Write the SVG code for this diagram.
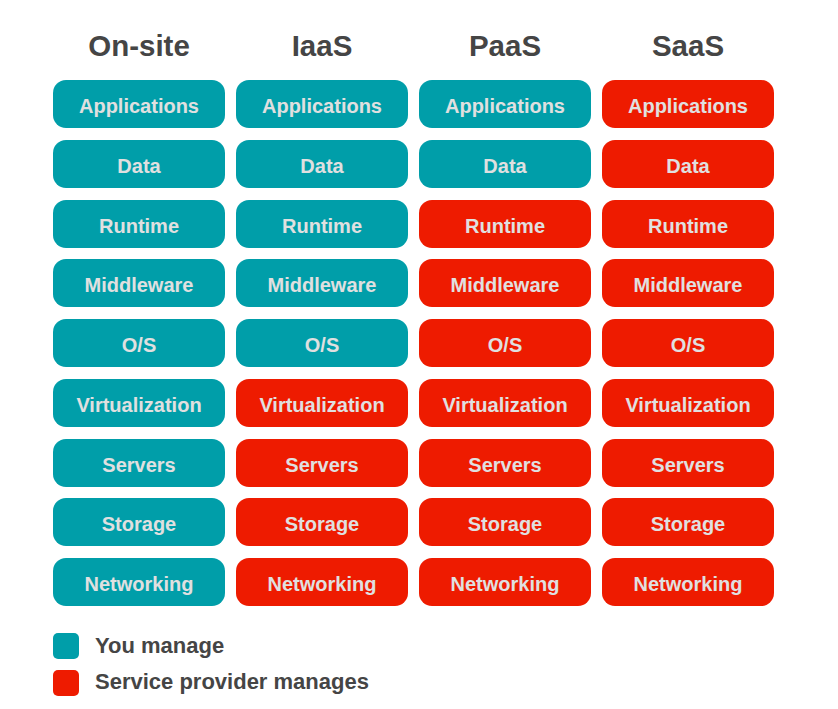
<svg xmlns="http://www.w3.org/2000/svg" width="838" height="709" viewBox="0 0 838 709">
<style>
.h{font-family:"Liberation Sans",Arial,sans-serif;font-weight:bold;font-size:29.5px;fill:#454545;text-anchor:middle}
.t{font-family:"Liberation Sans",Arial,sans-serif;font-weight:bold;font-size:20px;fill:#e0e0e0;text-anchor:middle}
.l{font-family:"Liberation Sans",Arial,sans-serif;font-weight:bold;font-size:22px;fill:#454545}
.y{fill:#009ea9}
.s{fill:#ee1b00}
</style>
<rect width="838" height="709" fill="#ffffff"/>
<g id="headers">
<text class="h" x="139" y="56">On-site</text>
<text class="h" x="322" y="56">IaaS</text>
<text class="h" x="505" y="56">PaaS</text>
<text class="h" x="688" y="56">SaaS</text>
</g>
<g id="onsite">
<g id="onsite-applications"><rect class="y" x="53" y="80" width="172" height="48" rx="13"/><text class="t" x="139" y="112.5">Applications</text></g>
<g id="onsite-data"><rect class="y" x="53" y="140" width="172" height="48" rx="13"/><text class="t" x="139" y="172.5">Data</text></g>
<g id="onsite-runtime"><rect class="y" x="53" y="200" width="172" height="48" rx="13"/><text class="t" x="139" y="232.5">Runtime</text></g>
<g id="onsite-middleware"><rect class="y" x="53" y="259" width="172" height="48" rx="13"/><text class="t" x="139" y="291.5">Middleware</text></g>
<g id="onsite-os"><rect class="y" x="53" y="319" width="172" height="48" rx="13"/><text class="t" x="139" y="351.5">O/S</text></g>
<g id="onsite-virtualization"><rect class="y" x="53" y="379" width="172" height="48" rx="13"/><text class="t" x="139" y="411.5">Virtualization</text></g>
<g id="onsite-servers"><rect class="y" x="53" y="439" width="172" height="48" rx="13"/><text class="t" x="139" y="471.5">Servers</text></g>
<g id="onsite-storage"><rect class="y" x="53" y="498" width="172" height="48" rx="13"/><text class="t" x="139" y="530.5">Storage</text></g>
<g id="onsite-networking"><rect class="y" x="53" y="558" width="172" height="48" rx="13"/><text class="t" x="139" y="590.5">Networking</text></g>
</g>
<g id="iaas">
<g id="iaas-applications"><rect class="y" x="236" y="80" width="172" height="48" rx="13"/><text class="t" x="322" y="112.5">Applications</text></g>
<g id="iaas-data"><rect class="y" x="236" y="140" width="172" height="48" rx="13"/><text class="t" x="322" y="172.5">Data</text></g>
<g id="iaas-runtime"><rect class="y" x="236" y="200" width="172" height="48" rx="13"/><text class="t" x="322" y="232.5">Runtime</text></g>
<g id="iaas-middleware"><rect class="y" x="236" y="259" width="172" height="48" rx="13"/><text class="t" x="322" y="291.5">Middleware</text></g>
<g id="iaas-os"><rect class="y" x="236" y="319" width="172" height="48" rx="13"/><text class="t" x="322" y="351.5">O/S</text></g>
<g id="iaas-virtualization"><rect class="s" x="236" y="379" width="172" height="48" rx="13"/><text class="t" x="322" y="411.5">Virtualization</text></g>
<g id="iaas-servers"><rect class="s" x="236" y="439" width="172" height="48" rx="13"/><text class="t" x="322" y="471.5">Servers</text></g>
<g id="iaas-storage"><rect class="s" x="236" y="498" width="172" height="48" rx="13"/><text class="t" x="322" y="530.5">Storage</text></g>
<g id="iaas-networking"><rect class="s" x="236" y="558" width="172" height="48" rx="13"/><text class="t" x="322" y="590.5">Networking</text></g>
</g>
<g id="paas">
<g id="paas-applications"><rect class="y" x="419" y="80" width="172" height="48" rx="13"/><text class="t" x="505" y="112.5">Applications</text></g>
<g id="paas-data"><rect class="y" x="419" y="140" width="172" height="48" rx="13"/><text class="t" x="505" y="172.5">Data</text></g>
<g id="paas-runtime"><rect class="s" x="419" y="200" width="172" height="48" rx="13"/><text class="t" x="505" y="232.5">Runtime</text></g>
<g id="paas-middleware"><rect class="s" x="419" y="259" width="172" height="48" rx="13"/><text class="t" x="505" y="291.5">Middleware</text></g>
<g id="paas-os"><rect class="s" x="419" y="319" width="172" height="48" rx="13"/><text class="t" x="505" y="351.5">O/S</text></g>
<g id="paas-virtualization"><rect class="s" x="419" y="379" width="172" height="48" rx="13"/><text class="t" x="505" y="411.5">Virtualization</text></g>
<g id="paas-servers"><rect class="s" x="419" y="439" width="172" height="48" rx="13"/><text class="t" x="505" y="471.5">Servers</text></g>
<g id="paas-storage"><rect class="s" x="419" y="498" width="172" height="48" rx="13"/><text class="t" x="505" y="530.5">Storage</text></g>
<g id="paas-networking"><rect class="s" x="419" y="558" width="172" height="48" rx="13"/><text class="t" x="505" y="590.5">Networking</text></g>
</g>
<g id="saas">
<g id="saas-applications"><rect class="s" x="602" y="80" width="172" height="48" rx="13"/><text class="t" x="688" y="112.5">Applications</text></g>
<g id="saas-data"><rect class="s" x="602" y="140" width="172" height="48" rx="13"/><text class="t" x="688" y="172.5">Data</text></g>
<g id="saas-runtime"><rect class="s" x="602" y="200" width="172" height="48" rx="13"/><text class="t" x="688" y="232.5">Runtime</text></g>
<g id="saas-middleware"><rect class="s" x="602" y="259" width="172" height="48" rx="13"/><text class="t" x="688" y="291.5">Middleware</text></g>
<g id="saas-os"><rect class="s" x="602" y="319" width="172" height="48" rx="13"/><text class="t" x="688" y="351.5">O/S</text></g>
<g id="saas-virtualization"><rect class="s" x="602" y="379" width="172" height="48" rx="13"/><text class="t" x="688" y="411.5">Virtualization</text></g>
<g id="saas-servers"><rect class="s" x="602" y="439" width="172" height="48" rx="13"/><text class="t" x="688" y="471.5">Servers</text></g>
<g id="saas-storage"><rect class="s" x="602" y="498" width="172" height="48" rx="13"/><text class="t" x="688" y="530.5">Storage</text></g>
<g id="saas-networking"><rect class="s" x="602" y="558" width="172" height="48" rx="13"/><text class="t" x="688" y="590.5">Networking</text></g>
</g>
<g id="legend">
<g id="legend-you"><rect class="y" x="53" y="633" width="26" height="26" rx="5"/><text class="l" x="95" y="653">You manage</text></g>
<g id="legend-provider"><rect class="s" x="53" y="670" width="26" height="26" rx="5"/><text class="l" x="95" y="689">Service provider manages</text></g>
</g>
<g id="connectors"/>
</svg>
